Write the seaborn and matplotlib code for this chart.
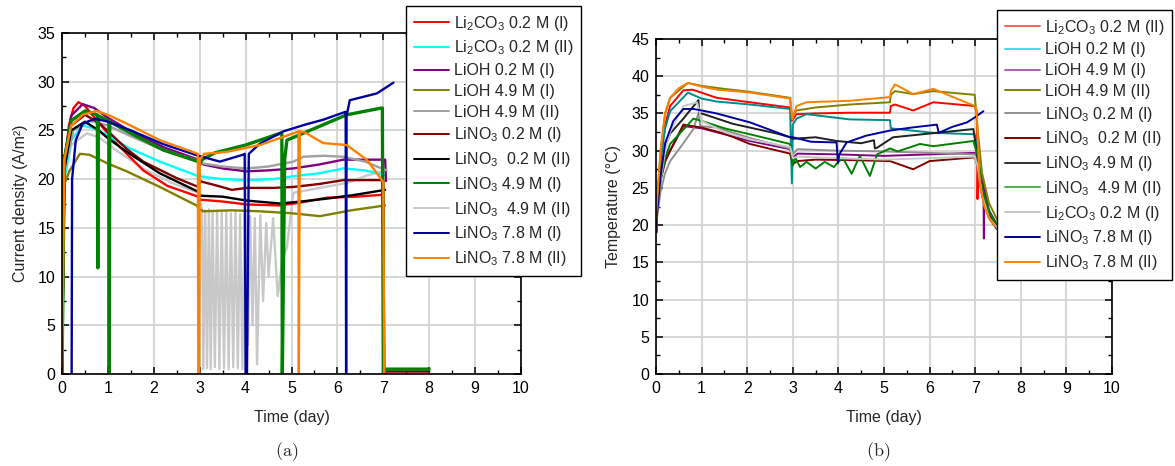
import matplotlib
matplotlib.use("Agg")
import matplotlib.pyplot as plt
import seaborn as sns
from matplotlib.ticker import MultipleLocator

# ---------------- data: panel (a) current density (A/m2) ----------------
A_LABELS = ["Li$_2$CO$_3$ 0.2 M (I)", "Li$_2$CO$_3$ 0.2 M (II)", "LiOH 0.2 M (I)",
            "LiOH 4.9 M (I)", "LiOH 4.9 M (II)", "LiNO$_3$ 0.2 M (I)",
            "LiNO$_3$  0.2 M (II)", "LiNO$_3$ 4.9 M (I)", "LiNO$_3$  4.9 M (II)",
            "LiNO$_3$ 7.8 M (I)", "LiNO$_3$ 7.8 M (II)"]

a_li2co3_I_t = [0.0, 0.05, 0.15, 0.25, 0.36, 0.5, 0.8, 1.2, 1.77, 2.3, 2.97, 3.0, 3.5, 4.03, 4.75, 5.2, 5.77, 6.4, 7.0, 7.02]
a_li2co3_I_y = [0.0, 21.0, 25.5, 27.3, 27.9, 27.5, 25.8, 23.6, 20.9, 19.3, 18.2, 17.9, 17.7, 17.4, 17.3, 17.6, 18.1, 18.2, 18.4, 0.0]

a_li2co3_II_t = [0.0, 0.05, 0.2, 0.45, 0.7, 1.0, 1.41, 2.13, 2.97, 3.5, 4.02, 4.6, 5.04, 5.6, 6.13, 6.6, 7.04]
a_li2co3_II_y = [0.0, 20.0, 24.0, 25.5, 25.2, 24.5, 23.3, 21.8, 20.3, 20.0, 19.9, 20.0, 20.3, 20.6, 21.1, 20.9, 20.4]

a_lioh02_I_t = [0.0, 0.05, 0.2, 0.45, 0.7, 1.0, 1.5, 2.2, 2.97, 3.08, 3.5, 4.02, 4.5, 5.04, 5.6, 6.13, 7.04, 7.06]
a_lioh02_I_y = [0.0, 22.0, 26.5, 27.7, 27.3, 26.3, 24.9, 23.3, 22.0, 21.5, 21.1, 20.8, 20.9, 21.1, 21.5, 22.0, 22.0, 19.8]

a_lioh49_I_t = [0.0, 0.05, 0.17, 0.39, 0.6, 1.0, 1.41, 2.13, 2.93, 3.0, 3.08, 3.7, 4.31, 5.0, 5.62, 6.3, 7.04]
a_lioh49_I_y = [0.0, 19.5, 20.9, 22.6, 22.5, 21.6, 20.8, 19.2, 17.3, 16.9, 16.7, 16.8, 16.7, 16.5, 16.2, 16.8, 17.3]

a_lioh49_II_t = [0.0, 0.05, 0.25, 0.6, 1.0, 1.5, 2.2, 2.97, 3.08, 3.5, 4.02, 4.5, 5.04, 5.26, 5.7, 6.13, 6.6, 7.07]
a_lioh49_II_y = [0.0, 21.0, 25.0, 26.0, 25.5, 24.4, 23.0, 21.9, 21.6, 21.3, 21.1, 21.3, 21.8, 22.3, 22.4, 22.3, 21.8, 20.9]

a_lino302_I_t = [0.0, 0.05, 0.2, 0.5, 0.8, 1.05, 1.41, 1.77, 2.5, 2.97, 3.0, 3.4, 3.7, 4.02, 4.6, 5.04, 5.6, 6.13, 7.0, 7.02, 7.05, 8.0]
a_lino302_I_y = [0.0, 21.0, 25.5, 26.6, 25.8, 24.7, 23.1, 21.8, 20.1, 19.2, 19.8, 19.3, 18.9, 19.1, 19.1, 19.2, 19.5, 19.9, 19.9, 0.0, 0.25, 0.25]

a_lino302_II_t = [0.0, 0.05, 0.2, 0.5, 0.8, 1.0, 1.41, 2.13, 2.97, 3.0, 3.5, 4.02, 4.75, 5.2, 5.77, 6.4, 7.04]
a_lino302_II_y = [0.0, 21.0, 25.0, 25.9, 25.0, 24.2, 22.8, 20.6, 18.7, 18.3, 18.2, 17.8, 17.5, 17.7, 18.0, 18.4, 18.9]

a_lino349_I_t = [0.0, 0.05, 0.2, 0.5, 0.77, 0.78, 0.79, 1.02, 1.03, 1.04, 1.5, 2.2, 2.97, 3.0, 3.05, 3.33, 4.0, 4.75,
                 4.79, 4.8, 4.85, 4.9, 5.5, 6.2, 6.96, 6.98, 7.0, 7.05, 8.0]
a_lino349_I_y = [0.0, 22.0, 26.0, 27.0, 26.6, 10.9, 26.5, 26.0, 0.0, 25.9, 24.7, 23.0, 21.8, 21.5, 22.0, 22.7, 23.5, 24.7,
                 24.7, 0.0, 22.0, 24.0, 25.2, 26.6, 27.3, 27.3, 0.0, 0.5, 0.5]

a_lino349_II_t = [0.0, 0.05, 0.2, 0.54, 0.8, 1.2, 1.8, 2.4, 2.97, 3.05, 3.08, 3.12, 3.16, 3.2, 3.24, 3.28, 3.33, 3.38,
                  3.43, 3.48, 3.53, 3.58, 3.63, 3.68, 3.73, 3.78, 3.83, 3.88, 3.93, 3.98, 4.05, 4.1, 4.15, 4.2,
                  4.25, 4.32, 4.38, 4.45, 4.5, 4.6, 4.7, 4.8, 4.9, 5.04, 5.5, 6.2, 6.6, 7.04]
a_lino349_II_y = [0.0, 20.0, 23.5, 24.7, 24.3, 22.9, 21.0, 19.6, 18.6, 17.0, 0.5, 16.8, 0.6, 16.9, 0.5, 16.7, 0.7, 16.8,
                  0.5, 16.6, 0.6, 16.7, 0.5, 16.5, 0.7, 16.6, 0.6, 16.4, 0.5, 16.5, 3.0, 16.2, 5.0, 16.0,
                  1.0, 16.3, 7.5, 15.5, 10.0, 16.0, 8.0, 11.7, 13.0, 18.6, 19.0, 19.6, 20.3, 20.9]

a_lino378_I_t = [0.21, 0.22, 0.3, 0.45, 0.72, 1.0, 1.5, 2.2, 2.97, 3.05, 3.44, 3.94, 3.98, 4.0, 4.03, 4.07, 4.3, 4.82,
                 5.3, 5.69, 6.17, 6.18, 6.19, 6.2, 6.27, 6.86, 7.22]
a_lino378_I_y = [0.0, 20.0, 24.0, 25.7, 26.2, 25.9, 25.0, 23.6, 22.4, 22.3, 21.8, 22.5, 22.6, 0.0, 0.0, 22.6, 23.6, 24.9,
                 25.6, 26.1, 26.9, 26.9, 0.0, 26.5, 28.1, 28.8, 29.9]

a_lino378_II_t = [0.0, 0.05, 0.2, 0.45, 0.75, 1.0, 1.41, 2.13, 2.96, 2.97, 2.99, 3.0, 3.1, 3.59, 4.31, 4.8, 5.15,
                  5.16, 5.18, 5.29, 5.69, 6.2, 6.64, 7.0, 7.02]
a_lino378_II_y = [0.0, 22.0, 25.5, 26.6, 27.0, 26.6, 25.7, 24.0, 22.6, 0.0, 0.0, 22.0, 22.6, 22.8, 23.5, 24.3, 24.9,
                  0.0, 24.9, 24.8, 23.7, 23.5, 22.0, 19.7, 0.0]

A_COLORS = ["#FF0000", "#00FFFF", "#800080", "#808000", "#A0A0A0", "#800000",
            "#000000", "#008000", "#C8C8C8", "#0000A0", "#FF8000"]

# ---------------- data: panel (b) temperature (deg C) ----------------
B_LABELS = ["Li$_2$CO$_3$ 0.2 M (II)", "LiOH 0.2 M (I)", "LiOH 4.9 M (I)", "LiOH 4.9 M (II)",
            "LiNO$_3$ 0.2 M (I)", "LiNO$_3$  0.2 M (II)", "LiNO$_3$ 4.9 M (I)",
            "LiNO$_3$  4.9 M (II)", "Li$_2$CO$_3$ 0.2 M (I)", "LiNO$_3$ 7.8 M (I)",
            "LiNO$_3$ 7.8 M (II)"]

b_li2co3_II_t = [0.0, 0.1, 0.2, 0.31, 0.6, 0.8, 1.33, 2.06, 2.94, 2.98, 3.08, 3.5, 4.25, 5.13, 5.15, 5.24, 5.64,
                 6.08, 6.99, 7.04, 7.05, 7.06, 7.15, 7.3, 7.47]
b_li2co3_II_y = [21.0, 29.0, 33.5, 36.0, 38.1, 38.2, 37.1, 36.5, 35.8, 34.0, 34.9, 35.0, 35.1, 35.1, 36.0, 36.2, 35.4,
                 36.5, 36.0, 35.0, 23.5, 28.0, 24.0, 21.5, 20.0]

b_lioh02_I_t = [0.0, 0.1, 0.2, 0.31, 0.7, 1.0, 1.33, 2.06, 2.94, 2.98, 3.0, 3.08, 3.3, 4.25, 5.13, 5.15, 5.3, 6.08,
                6.99, 7.05, 7.15, 7.3, 7.47]
b_lioh02_I_y = [21.0, 28.5, 33.0, 35.3, 37.8, 37.0, 36.6, 36.2, 35.6, 25.6, 33.5, 34.3, 34.9, 34.2, 34.1, 33.0, 32.9,
                32.4, 32.2, 30.0, 25.5, 22.0, 20.2]

b_lioh49_I_t = [0.0, 0.01, 0.03, 0.1, 0.31, 0.6, 1.0, 2.06, 2.94, 3.0, 3.1, 4.0, 5.0, 6.0, 6.99, 7.1, 7.18, 7.19,
                7.2, 7.3, 7.47]
b_lioh49_I_y = [22.0, 19.0, 24.0, 27.5, 30.0, 33.3, 33.0, 31.3, 30.2, 29.0, 29.6, 29.5, 29.3, 29.5, 29.7, 27.0, 25.5,
                18.2, 25.0, 22.0, 20.0]

b_lioh49_II_t = [0.0, 0.1, 0.2, 0.31, 0.7, 1.0, 1.5, 2.06, 2.94, 2.98, 3.08, 3.5, 4.25, 5.13, 5.15, 5.24, 5.64, 6.08,
                 6.99, 7.05, 7.15, 7.3, 7.5]
b_lioh49_II_y = [21.0, 30.0, 35.0, 37.1, 39.1, 38.7, 38.3, 37.9, 37.1, 34.5, 35.4, 35.8, 36.2, 36.5, 37.5, 38.0, 37.6,
                 38.0, 37.5, 33.0, 27.0, 23.0, 20.5]

b_lino302_I_t = [0.0, 0.1, 0.2, 0.31, 0.6, 0.82, 0.93, 0.97, 1.33, 2.06, 2.94, 3.0, 3.1, 4.0, 5.0, 6.0, 6.99, 7.05,
                 7.15, 7.3, 7.47]
b_lino302_I_y = [20.0, 24.5, 27.0, 28.6, 31.0, 32.9, 35.0, 33.3, 33.1, 31.7, 30.3, 29.5, 30.2, 30.0, 29.9, 29.7, 29.5,
                 28.5, 24.5, 21.5, 19.8]

b_lino302_II_t = [0.0, 0.1, 0.2, 0.31, 0.6, 1.0, 1.5, 2.06, 2.94, 3.0, 3.1, 3.5, 4.5, 5.13, 5.64, 6.0, 6.99, 7.05,
                  7.15, 7.3, 7.47]
b_lino302_II_y = [21.0, 26.0, 28.5, 30.0, 33.5, 33.1, 32.3, 30.9, 29.6, 28.2, 28.6, 28.8, 28.7, 28.6, 27.5, 28.6, 29.1,
                  28.0, 24.5, 21.5, 19.8]

b_lino349_I_t = [0.0, 0.1, 0.2, 0.31, 0.6, 0.93, 0.95, 1.0, 1.69, 2.65, 2.94, 3.0, 3.5, 3.96, 4.5, 4.78, 4.8, 4.85,
                 5.2, 6.16, 6.96, 7.05, 7.15, 7.3, 7.47]
b_lino349_I_y = [21.0, 27.0, 30.5, 32.3, 34.3, 36.8, 34.9, 35.0, 33.6, 32.3, 31.8, 31.6, 31.8, 31.3, 31.0, 31.4, 30.3,
                 30.4, 31.8, 32.4, 32.9, 29.0, 24.0, 21.0, 19.5]

b_lino349_II_t = [0.0, 0.1, 0.2, 0.31, 0.82, 1.0, 1.5, 2.06, 2.94, 3.0, 3.05, 3.16, 3.3, 3.5, 3.7, 3.9, 4.0, 4.1,
                  4.29, 4.47, 4.69, 4.85, 5.13, 5.3, 5.79, 6.08, 6.96, 7.05, 7.15, 7.3, 7.47]
b_lino349_II_y = [21.0, 26.0, 29.0, 30.9, 34.3, 34.0, 33.0, 32.2, 30.9, 28.0, 29.1, 27.8, 28.5, 27.6, 28.5, 27.8, 28.5,
                  29.0, 26.9, 29.3, 26.6, 29.5, 30.3, 29.9, 30.9, 30.6, 31.3, 29.5, 25.0, 21.8, 20.0]

b_li2co3_I_t = [0.0, 0.1, 0.2, 0.31, 0.6, 0.9, 1.0, 1.5, 2.06, 2.94, 3.0, 3.1, 4.0, 5.0, 6.0, 6.99, 7.05, 7.15, 7.3, 7.5]
b_li2co3_I_y = [20.5, 26.0, 30.0, 32.5, 36.0, 36.5, 34.0, 32.5, 31.5, 30.5, 29.0, 29.2, 29.0, 28.8, 29.0, 29.2, 28.0,
                24.0, 21.0, 19.5]

b_lino378_I_t = [0.0, 0.1, 0.2, 0.38, 0.6, 0.82, 1.0, 1.33, 2.06, 2.94, 3.0, 3.4, 3.96, 3.99, 4.02, 4.18, 4.6, 5.13,
                 5.6, 6.16, 6.2, 6.5, 6.82, 7.0, 7.18]
b_lino378_I_y = [20.0, 26.5, 31.0, 34.0, 35.6, 35.6, 35.4, 35.0, 33.8, 31.8, 31.8, 31.2, 31.1, 28.3, 29.5, 31.1, 32.0,
                 32.7, 33.1, 33.5, 32.4, 33.2, 33.8, 34.5, 35.3]

b_lino378_II_t = [0.0, 0.1, 0.2, 0.31, 0.5, 0.7, 1.0, 1.33, 2.06, 2.94, 2.99, 3.08, 3.3, 4.25, 5.13, 5.15, 5.24, 5.64,
                  6.08, 6.99, 7.03, 7.1, 7.2, 7.3, 7.43]
b_lino378_II_y = [21.0, 30.0, 35.0, 37.1, 38.4, 39.1, 38.6, 38.2, 37.8, 37.0, 34.2, 36.0, 36.5, 36.7, 37.2, 38.0, 38.9,
                  37.6, 38.3, 36.0, 35.5, 25.5, 22.5, 21.0, 19.9]

B_COLORS = ["#FF0000", "#008B8B", "#800080", "#808000", "#909090", "#800000",
            "#202020", "#008000", "#C8C8C8", "#0000A0", "#FF8000"]
B_LEGEND_COLORS = ["#FF6060", "#40E0E0", "#B060B0", "#808000", "#909090", "#800000",
                   "#303030", "#50B050", "#C8C8C8", "#0000A0", "#FF8000"]

A_SERIES = [(a_li2co3_I_t, a_li2co3_I_y), (a_li2co3_II_t, a_li2co3_II_y), (a_lioh02_I_t, a_lioh02_I_y),
            (a_lioh49_I_t, a_lioh49_I_y), (a_lioh49_II_t, a_lioh49_II_y), (a_lino302_I_t, a_lino302_I_y),
            (a_lino302_II_t, a_lino302_II_y), (a_lino349_I_t, a_lino349_I_y), (a_lino349_II_t, a_lino349_II_y),
            (a_lino378_I_t, a_lino378_I_y), (a_lino378_II_t, a_lino378_II_y)]
B_SERIES = [(b_li2co3_II_t, b_li2co3_II_y), (b_lioh02_I_t, b_lioh02_I_y), (b_lioh49_I_t, b_lioh49_I_y),
            (b_lioh49_II_t, b_lioh49_II_y), (b_lino302_I_t, b_lino302_I_y), (b_lino302_II_t, b_lino302_II_y),
            (b_lino349_I_t, b_lino349_I_y), (b_lino349_II_t, b_lino349_II_y), (b_li2co3_I_t, b_li2co3_I_y),
            (b_lino378_I_t, b_lino378_I_y), (b_lino378_II_t, b_lino378_II_y)]

# ---------------- style ----------------
sns.set_theme(style="ticks")
plt.rcParams["font.family"] = ["Liberation Sans", "DejaVu Sans"]
plt.rcParams["mathtext.default"] = "regular"
plt.rcParams["axes.edgecolor"] = "black"
plt.rcParams["axes.linewidth"] = 1.2
FS = 11.5

W, H = 1175, 466
fig = plt.figure(figsize=(W / 100, H / 100), dpi=100)
ax_a = fig.add_axes([62 / W, 1 - 374 / H, (521 - 62) / W, (374 - 33) / H])
ax_b = fig.add_axes([656 / W, 1 - 374 / H, (1112 - 656) / W, (374 - 39) / H])


def style_axis(ax, ymax, ylabel):
    ax.set_xlim(0, 10)
    ax.set_ylim(0, ymax)
    ax.xaxis.set_major_locator(MultipleLocator(1))
    ax.xaxis.set_minor_locator(MultipleLocator(0.5))
    ax.yaxis.set_major_locator(MultipleLocator(5))
    ax.yaxis.set_minor_locator(MultipleLocator(2.5))
    ax.grid(True, which="major", color="#D4D4D4", linewidth=1.3)
    ax.set_axisbelow(True)
    ax.tick_params(which="both", direction="in", top=True, right=True, colors="black",
                   labelsize=FS, pad=5)
    ax.tick_params(which="major", length=5, width=1.1)
    ax.tick_params(which="minor", length=3, width=1.0)
    ax.set_xlabel("Time (day)", fontsize=FS, labelpad=10)
    ax.set_ylabel(ylabel, fontsize=FS, labelpad=7)
    for s in ax.spines.values():
        s.set_linewidth(1.2)
        s.set_color("black")


# panel (a)
for i, ((t, y), c, lab) in enumerate(zip(A_SERIES, A_COLORS, A_LABELS)):
    z = 1.8 if i == 8 else 2 + i * 0.01
    lw = 2.4 if i == 7 else 1.7
    sns.lineplot(x=t, y=y, color=c, label=lab, estimator=None, sort=False,
                 linewidth=lw, ax=ax_a, zorder=z)
style_axis(ax_a, 35, "Current density (A/m²)")

# panel (b)
for i, ((t, y), c, lab) in enumerate(zip(B_SERIES, B_COLORS, B_LABELS)):
    sns.lineplot(x=t, y=y, color=c, label=lab, estimator=None, sort=False,
                 linewidth=1.4, ax=ax_b, zorder=2 + i * 0.01)
style_axis(ax_b, 45, "Temperature (°C)")


def make_legend(ax, x0, y0, colors=None):
    h, l = ax.get_legend_handles_labels()
    leg = ax.legend(h, l, loc="upper left", bbox_to_anchor=(x0 / W, 1 - y0 / H),
                    bbox_transform=fig.transFigure, borderaxespad=0, fontsize=FS,
                    frameon=True, fancybox=False, framealpha=1, edgecolor="black",
                    handlelength=2.2, handletextpad=0.35, labelspacing=0.36,
                    borderpad=0.48)
    leg.get_frame().set_linewidth(1.0)
    leg.set_zorder(10)
    for j, line in enumerate(leg.get_lines()):
        line.set_linewidth(1.4)
        if colors is not None:
            line.set_color(colors[j])
    return leg


make_legend(ax_a, 406, 6)
make_legend(ax_b, 997, 10, B_LEGEND_COLORS)

fig.text(287 / W, 1 - 452 / H, r"$\mathrm{(a)}$", ha="center", va="center", fontsize=13,
         math_fontfamily="cm")
fig.text(878 / W, 1 - 452 / H, r"$\mathrm{(b)}$", ha="center", va="center", fontsize=13,
         math_fontfamily="cm")

fig.savefig("out.png", dpi=100)
